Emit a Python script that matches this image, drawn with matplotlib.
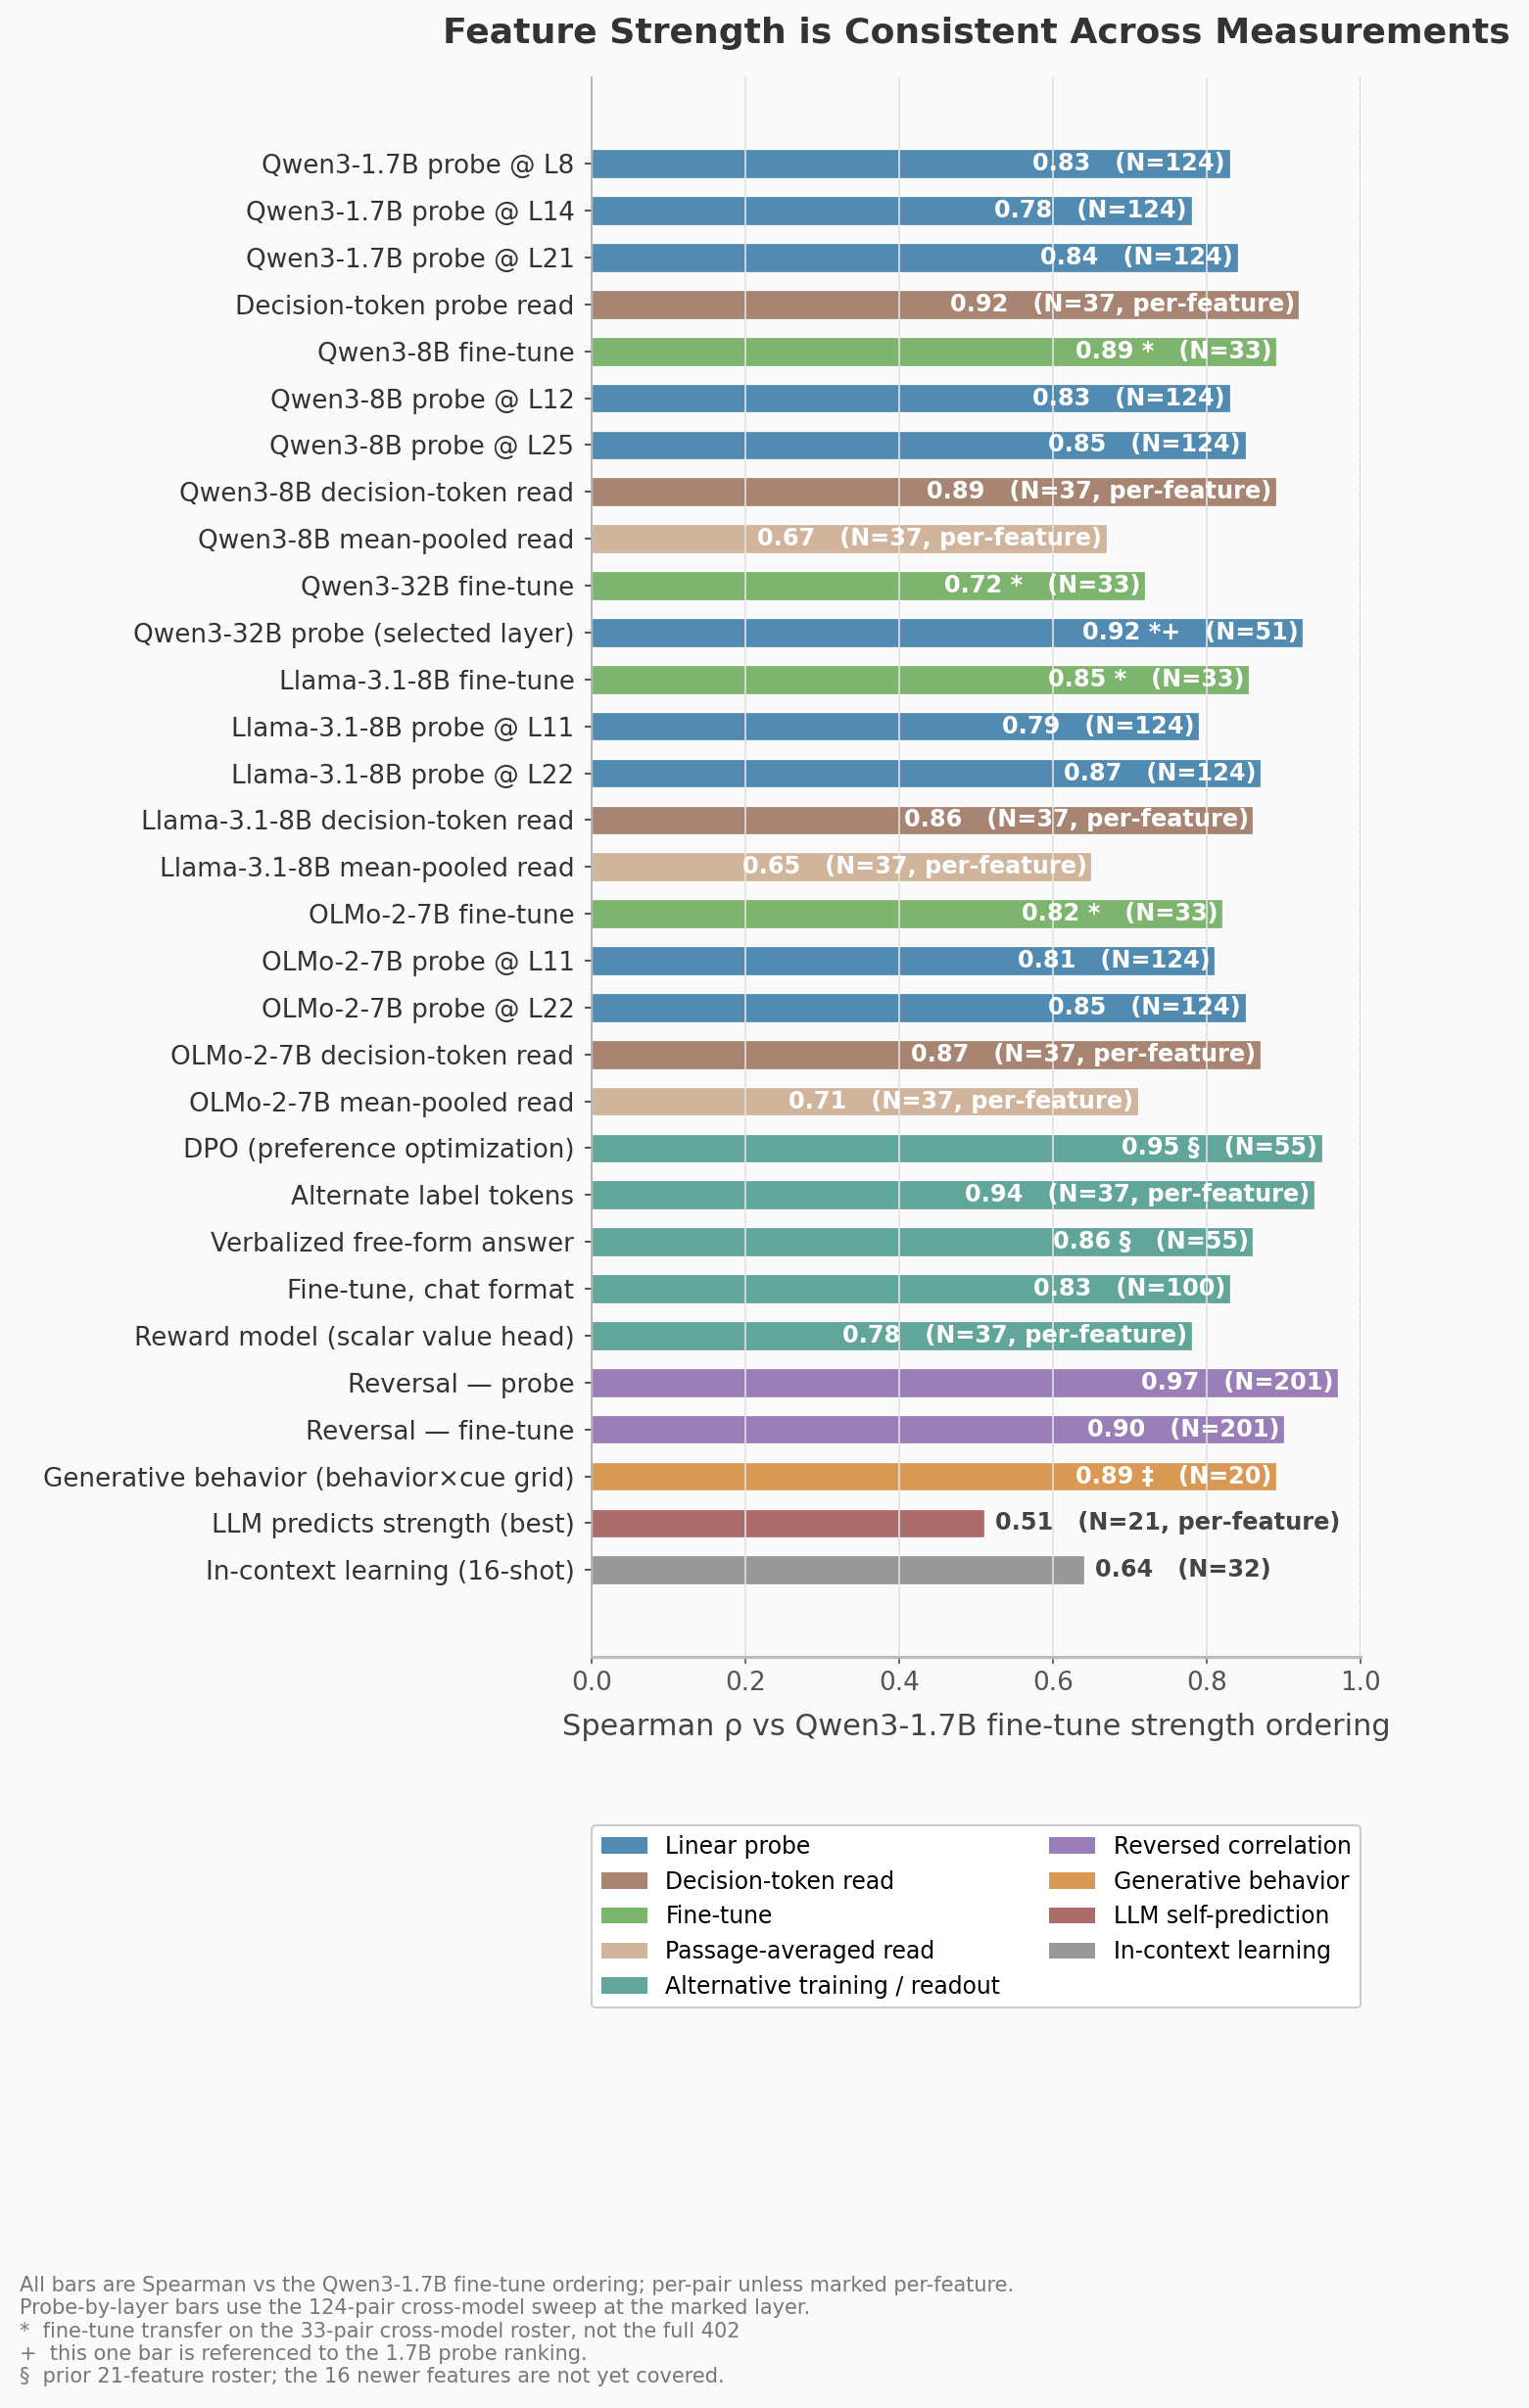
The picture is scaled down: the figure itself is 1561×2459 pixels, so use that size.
import matplotlib
matplotlib.use("Agg")
import matplotlib.pyplot as plt
from matplotlib.patches import Patch

labels = [
    "Qwen3-1.7B probe @ L8",
    "Qwen3-1.7B probe @ L14",
    "Qwen3-1.7B probe @ L21",
    "Decision-token probe read",
    "Qwen3-8B fine-tune",
    "Qwen3-8B probe @ L12",
    "Qwen3-8B probe @ L25",
    "Qwen3-8B decision-token read",
    "Qwen3-8B mean-pooled read",
    "Qwen3-32B fine-tune",
    "Qwen3-32B probe (selected layer)",
    "Llama-3.1-8B fine-tune",
    "Llama-3.1-8B probe @ L11",
    "Llama-3.1-8B probe @ L22",
    "Llama-3.1-8B decision-token read",
    "Llama-3.1-8B mean-pooled read",
    "OLMo-2-7B fine-tune",
    "OLMo-2-7B probe @ L11",
    "OLMo-2-7B probe @ L22",
    "OLMo-2-7B decision-token read",
    "OLMo-2-7B mean-pooled read",
    "DPO (preference optimization)",
    "Alternate label tokens",
    "Verbalized free-form answer",
    "Fine-tune, chat format",
    "Reward model (scalar value head)",
    "Reversal — probe",
    "Reversal — fine-tune",
    "Generative behavior (behavior×cue grid)",
    "LLM predicts strength (best)",
    "In-context learning (16-shot)",
]
values = [0.83, 0.78, 0.84, 0.92, 0.89, 0.83, 0.85, 0.89, 0.67, 0.72, 0.925,
          0.855, 0.79, 0.87, 0.86, 0.65, 0.82, 0.81, 0.85, 0.87, 0.71,
          0.95, 0.94, 0.86, 0.83, 0.78, 0.97, 0.90, 0.89, 0.51, 0.64]
shown = ["0.83", "0.78", "0.84", "0.92", "0.89", "0.83", "0.85", "0.89", "0.67", "0.72", "0.92",
         "0.85", "0.79", "0.87", "0.86", "0.65", "0.82", "0.81", "0.85", "0.87", "0.71",
         "0.95", "0.94", "0.86", "0.83", "0.78", "0.97", "0.90", "0.89", "0.51", "0.64"]
marks = ["", "", "", "", " *", "", "", "", "", " *", " *+",
         " *", "", "", "", "", " *", "", "", "", "",
         " §", "", " §", "", "", "", "", " ‡", "", ""]
ns = ["N=124", "N=124", "N=124", "N=37, per-feature", "N=33", "N=124", "N=124",
      "N=37, per-feature", "N=37, per-feature", "N=33", "N=51", "N=33", "N=124", "N=124",
      "N=37, per-feature", "N=37, per-feature", "N=33", "N=124", "N=124",
      "N=37, per-feature", "N=37, per-feature", "N=55", "N=37, per-feature", "N=55",
      "N=100", "N=37, per-feature", "N=201", "N=201", "N=20", "N=21, per-feature", "N=32"]
groups = ["probe", "probe", "probe", "dec", "ft", "probe", "probe", "dec", "pool", "ft", "probe",
          "ft", "probe", "probe", "dec", "pool", "ft", "probe", "probe", "dec", "pool",
          "alt", "alt", "alt", "alt", "alt", "rev", "rev", "gen", "llm", "icl"]

group_names = {
    "probe": "Linear probe",
    "dec": "Decision-token read",
    "ft": "Fine-tune",
    "pool": "Passage-averaged read",
    "alt": "Alternative training / readout",
    "rev": "Reversed correlation",
    "gen": "Generative behavior",
    "llm": "LLM self-prediction",
    "icl": "In-context learning",
}
group_colors = {
    "probe": "#528bb2",
    "dec": "#a88573",
    "ft": "#7db46e",
    "pool": "#d0b49b",
    "alt": "#62a69b",
    "rev": "#9a7eb8",
    "gen": "#d99955",
    "llm": "#ac6c6c",
    "icl": "#999999",
}

bg = "#fafafa"
fig = plt.figure(figsize=(1561 / 150, 2459 / 150), dpi=150, facecolor=bg)
ax = fig.add_axes([0.387, 0.312, 0.503, 0.656], facecolor=bg)

y = list(range(len(labels)))
ax.barh(y, values, height=0.62, color=[group_colors[g] for g in groups],
        edgecolor="white", linewidth=0.6)

for i, v in enumerate(values):
    txt = f"{shown[i]}{marks[i]}   ({ns[i]})"
    if v >= 0.645:
        ax.text(v - 0.006, i, txt, ha="right", va="center", color="white",
                fontsize=11.5, fontweight="bold")
    else:
        ax.text(v + 0.015, i, txt, ha="left", va="center", color="#444444",
                fontsize=11.5, fontweight="bold")

ax.set_yticks(y)
ax.set_yticklabels(labels, fontsize=12.6, color="#333333")
ax.set_ylim(len(labels) - 1 + 1.85, -1.85)
ax.set_xlim(0, 1.0)
ax.set_xticks([0, 0.2, 0.4, 0.6, 0.8, 1.0])
ax.set_xticklabels(["0.0", "0.2", "0.4", "0.6", "0.8", "1.0"])
ax.tick_params(axis="x", labelsize=12.6, labelcolor="#555555", color="#555555")
ax.tick_params(axis="y", color="#333333", pad=5)
ax.grid(axis="x", color="#e2e2e2", linewidth=0.8)
ax.axvline(1.0, color="#cccccc", linestyle="--", linewidth=0.8)
for s in ["top", "right"]:
    ax.spines[s].set_visible(False)
ax.spines["left"].set_color("#aaaaaa")
ax.spines["bottom"].set_color("#bbbbbb")
ax.spines["bottom"].set_linewidth(1.5)
ax.set_xlabel("Spearman ρ vs Qwen3-1.7B fine-tune strength ordering",
              fontsize=14.6, color="#444444", labelpad=8)

fig.text(0.6385, 0.986, "Feature Strength is Consistent Across Measurements",
         ha="center", va="center", fontsize=17.4, fontweight="bold", color="#333333")

handles = [Patch(facecolor=group_colors[k], label=group_names[k]) for k in group_names]
ax.legend(handles=handles, ncol=2, loc="upper left", bbox_to_anchor=(0, -0.117, 1, 0.01),
          mode="expand", fontsize=11.3, frameon=True, edgecolor="#cccccc",
          facecolor="white", framealpha=1, borderaxespad=0, labelspacing=0.5)

notes = ("All bars are Spearman vs the Qwen3-1.7B fine-tune ordering; per-pair unless marked per-feature.\n"
         "Probe-by-layer bars use the 124-pair cross-model sweep at the marked layer.\n"
         "*  fine-tune transfer on the 33-pair cross-model roster, not the full 402\n"
         "+  this one bar is referenced to the 1.7B probe ranking.\n"
         "§  prior 21-feature roster; the 16 newer features are not yet covered.")
fig.text(0.0128, 0.0548, notes, ha="left", va="top", fontsize=10, color="#777777",
         linespacing=1.2)

fig.savefig("out.png", dpi=150, facecolor=bg)
